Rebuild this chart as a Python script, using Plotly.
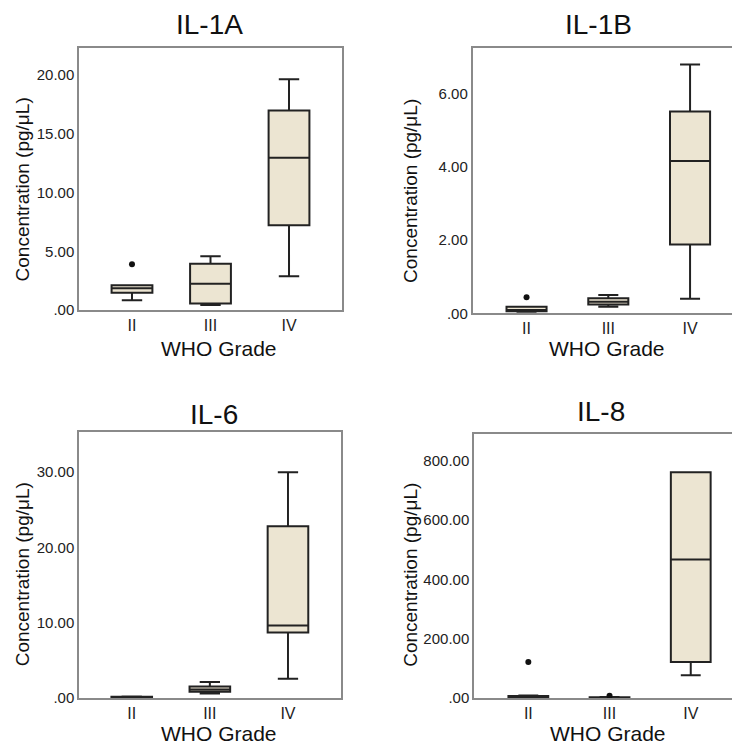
import plotly.graph_objects as go

grades = ["II", "III", "IV"]

# IL-1A
il1a_low = [0.83, 0.42, 2.87]
il1a_q1 = [1.46, 0.56, 7.21]
il1a_med = [1.84, 2.24, 12.98]
il1a_q3 = [2.11, 3.93, 16.99]
il1a_high = [2.11, 4.58, 19.66]
il1a_out_x = ["II"]
il1a_out_y = [3.90]

# IL-1B
il1b_low = [0.04, 0.18, 0.40]
il1b_q1 = [0.06, 0.24, 1.88]
il1b_med = [0.09, 0.32, 4.17]
il1b_q3 = [0.18, 0.41, 5.52]
il1b_high = [0.18, 0.50, 6.81]
il1b_out_x = ["II"]
il1b_out_y = [0.44]

# IL-6
il6_low = [0.03, 0.62, 2.59]
il6_q1 = [0.06, 0.84, 8.71]
il6_med = [0.10, 1.14, 9.63]
il6_q3 = [0.18, 1.54, 22.8]
il6_high = [0.22, 2.15, 29.97]
il6_out_x = []
il6_out_y = []

# IL-8
il8_low = [0.5, 0.3, 77]
il8_q1 = [1.5, 0.8, 122]
il8_med = [3, 1.5, 467]
il8_q3 = [7, 3, 761]
il8_high = [9, 4, 761]
il8_out_x = ["II", "III"]
il8_out_y = [122, 8]

panel_titles = ["IL-1A", "IL-1B", "IL-6", "IL-8"]
y_tickvals = [[0, 5, 10, 15, 20], [0, 2, 4, 6], [0, 10, 20, 30], [0, 200, 400, 600, 800]]
y_ticktext = [[".00", "5.00", "10.00", "15.00", "20.00"],
              [".00", "2.00", "4.00", "6.00"],
              [".00", "10.00", "20.00", "30.00"],
              [".00", "200.00", "400.00", "600.00", "800.00"]]
x_title = "WHO Grade"
y_title = "Concentration (pg/\u03bcL)"

W, H = 732, 750
FONT = "Liberation Sans, Arial, Helvetica, sans-serif"
FILL = "#ECE5D2"
LINE = "#222222"
FRAME = "#8a8a8a"

panels = [
    dict(low=il1a_low, q1=il1a_q1, med=il1a_med, q3=il1a_q3, high=il1a_high, ox=il1a_out_x, oy=il1a_out_y,
         box=(79, 342, 49, 313.3), xr=[-0.675, 2.675], yr=[0, 22.28], bw=0.52,
         title=(209, 24.5), xt=(219, 352.5), yt=(22.5, 192)),
    dict(low=il1b_low, q1=il1b_q1, med=il1b_med, q3=il1b_q3, high=il1b_high, ox=il1b_out_x, oy=il1b_out_y,
         box=(472.5, 732, 49, 316.7), xr=[-0.661, 2.513], yr=[0, 7.245], bw=0.49,
         title=(598, 25), xt=(607, 352.5), yt=(411, 193)),
    dict(low=il6_low, q1=il6_q1, med=il6_med, q3=il6_q3, high=il6_high, ox=il6_out_x, oy=il6_out_y,
         box=(79, 340.7, 436.7, 705.7), xr=[-0.675, 2.675], yr=[0, 35.3], bw=0.52,
         title=(214, 419), xt=(219, 741), yt=(22.5, 581)),
    dict(low=il8_low, q1=il8_q1, med=il8_med, q3=il8_q3, high=il8_high, ox=il8_out_x, oy=il8_out_y,
         box=(474, 732, 438.3, 705.7), xr=[-0.669, 2.508], yr=[0, 891], bw=0.49,
         title=(601, 416), xt=(607.5, 741), yt=(411, 581)),
]

fig = go.Figure()
annotations = []
layout = {}
for i, p in enumerate(panels):
    n = i + 1
    xa = "x" if n == 1 else f"x{n}"
    ya = "y" if n == 1 else f"y{n}"
    pos = list(range(len(grades)))
    fig.add_trace(go.Box(
        x=pos, q1=p["q1"], median=p["med"], q3=p["q3"],
        lowerfence=p["low"], upperfence=p["high"],
        fillcolor=FILL, line=dict(color=LINE, width=2),
        width=p["bw"], whiskerwidth=0.5, boxpoints=False,
        xaxis=xa, yaxis=ya, showlegend=False, hoverinfo="skip"))
    if p["ox"]:
        fig.add_trace(go.Scatter(
            x=[grades.index(g) for g in p["ox"]], y=p["oy"], mode="markers",
            marker=dict(color="#111111", size=6), xaxis=xa, yaxis=ya,
            showlegend=False, hoverinfo="skip", cliponaxis=False))
    x0, x1, y0, y1 = p["box"]
    right_cropped = x1 >= W
    layout["xaxis" if n == 1 else f"xaxis{n}"] = dict(
        domain=[x0 / W, min(x1 / W, 1.0)], anchor=ya, range=p["xr"],
        tickvals=pos, ticktext=grades, showgrid=False, zeroline=False,
        showline=True, linecolor=FRAME, linewidth=1.5, mirror=True,
        ticks="", tickfont=dict(size=16, color="#222", family=FONT), fixedrange=True)
    layout["yaxis" if n == 1 else f"yaxis{n}"] = dict(
        domain=[1 - y1 / H, 1 - y0 / H], anchor=xa, range=p["yr"],
        tickvals=y_tickvals[i], ticktext=y_ticktext[i], showgrid=False, zeroline=False,
        showline=True, linecolor=FRAME, linewidth=1.5, mirror=(not right_cropped),
        ticks="", tickfont=dict(size=15, color="#222", family=FONT), fixedrange=True)
    tx, ty = p["title"]
    annotations.append(dict(text=panel_titles[i], x=tx / W, y=1 - ty / H, xref="paper", yref="paper",
                            xanchor="center", yanchor="middle", showarrow=False,
                            font=dict(size=28, color="#111", family=FONT)))
    ax, ay = p["xt"]
    annotations.append(dict(text=x_title, x=ax / W, y=1 - ay / H, xref="paper", yref="paper",
                            xanchor="center", yanchor="middle", showarrow=False,
                            font=dict(size=21, color="#111", family=FONT)))
    bx, by = p["yt"]
    annotations.append(dict(text=y_title, x=bx / W, y=1 - by / H, xref="paper", yref="paper",
                            xanchor="center", yanchor="middle", showarrow=False, textangle=-90,
                            font=dict(size=19, color="#111", family=FONT)))

fig.update_layout(width=W, height=H, margin=dict(l=0, r=0, t=0, b=0),
                  paper_bgcolor="white", plot_bgcolor="white",
                  annotations=annotations, font=dict(family=FONT), **layout)
fig.write_html("out.html", config={"displayModeBar": False},
               post_script="document.body.style.margin='0';document.body.style.overflow='hidden';")
